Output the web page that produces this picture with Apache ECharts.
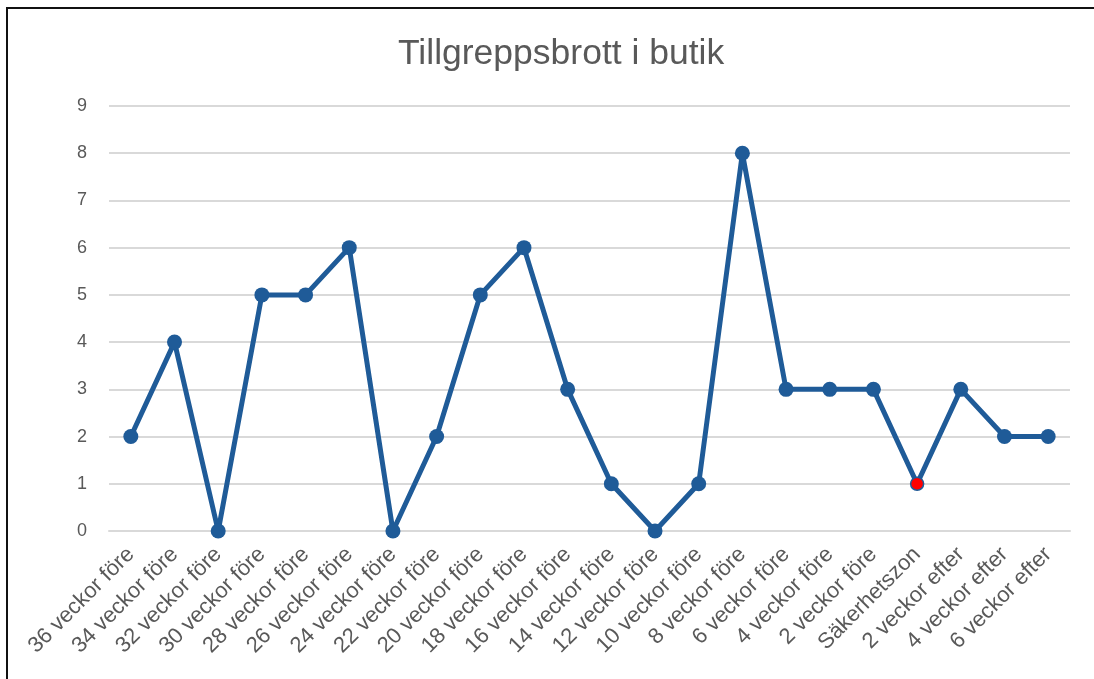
<!DOCTYPE html>
<html>
<head>
<meta charset="utf-8">
<script src="https://cdn.jsdelivr.net/npm/echarts@6/dist/echarts.min.js"></script>
<style>
  html, body { margin: 0; padding: 0; background: #fff; }
  #frame { position: absolute; left: 6px; top: 7px; width: 1100px; height: 700px;
           border-left: 2px solid #111; border-top: 2px solid #111; }
  #chart { position: absolute; left: 0; top: 0; width: 1094px; height: 679px; }
</style>
</head>
<body>
<div id="frame"></div>
<div id="chart"></div>
<script>
// Weekly shop theft counts around the security zone period
const categories = [
  '36 veckor före', '34 veckor före', '32 veckor före', '30 veckor före',
  '28 veckor före', '26 veckor före', '24 veckor före', '22 veckor före',
  '20 veckor före', '18 veckor före', '16 veckor före', '14 veckor före',
  '12 veckor före', '10 veckor före', '8 veckor före', '6 veckor före',
  '4 veckor före', '2 veckor före', 'Säkerhetszon', '2 veckor efter',
  '4 veckor efter', '6 veckor efter'
];
const counts = [2, 4, 0, 5, 5, 6, 0, 2, 5, 6, 3, 1, 0, 1, 8, 3, 3, 3, 1, 3, 2, 2];
const highlighted = 'Säkerhetszon';

const blue = '#1F5B98';
const font = 'Liberation Sans, Arial, sans-serif';

const seriesData = counts.map((v, i) => categories[i] === highlighted
  ? { value: v, symbolSize: 13, itemStyle: { color: '#FF0000', borderColor: blue, borderWidth: 1.5 } }
  : v);

const chart = echarts.init(document.getElementById('chart'), null, { renderer: 'canvas' });
chart.setOption({
  animation: false,
  title: {
    text: 'Tillgreppsbrott i butik',
    left: 393,
    top: 31,
    textStyle: { fontFamily: font, fontSize: 35.5, fontWeight: 'normal', color: '#595959' }
  },
  grid: { left: 109, right: 24, top: 106, bottom: 148, containLabel: false },
  xAxis: {
    type: 'category',
    data: categories,
    boundaryGap: true,
    axisLine: { show: true, lineStyle: { color: '#D9D9D9', width: 2 } },
    axisTick: { show: false },
    axisLabel: {
      rotate: 45, interval: 0, margin: 20,
      fontFamily: font, fontSize: 22, color: '#595959'
    },
    splitLine: { show: false }
  },
  yAxis: {
    type: 'value',
    min: 0, max: 9, interval: 1,
    axisLine: { show: false },
    axisTick: { show: false },
    axisLabel: { margin: 22, fontFamily: font, fontSize: 18, color: '#595959' },
    splitLine: { lineStyle: { color: '#D9D9D9', width: 2 } }
  },
  series: [{
    type: 'line',
    data: seriesData,
    symbol: 'circle',
    symbolSize: 15,
    lineStyle: { color: blue, width: 5 },
    itemStyle: { color: blue },
    z: 3
  }]
});
</script>
</body>
</html>
